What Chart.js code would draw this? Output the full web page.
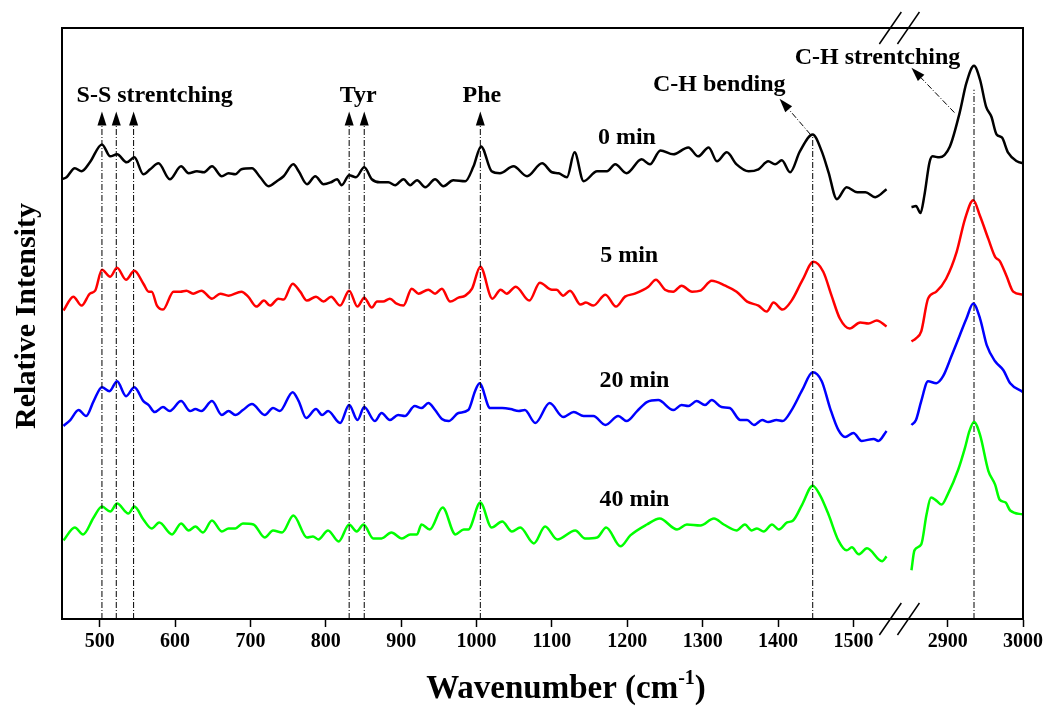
<!DOCTYPE html>
<html>
<head>
<meta charset="utf-8">
<script src="https://cdn.jsdelivr.net/npm/chart.js@4.4.0/dist/chart.umd.min.js"></script>
<style>
  html, body { margin: 0; padding: 0; background: #fff; }
  #wrap { width: 1056px; height: 709px; }
</style>
</head>
<body>
<div id="wrap"><canvas id="raman" width="1056" height="709"></canvas></div>
<script>
// Raman spectra after 0, 5, 20 and 40 min, offset vertically (relative intensity, a.u.)
// left part = fingerprint region, right part = C-H stretching region

// 0 min
const wn0L = [450,456,467,476,487,503,514,523,536,546,558,567,578,593,608,618,629,638,649,662,671,680,688,702,713,724,735,744,757,764,775,786,797,807,815,821,831,840,851,861,872,883,892,903,912,921,932,945,956,969,985,996,1006,1020,1031,1049,1067,1087,1100,1109,1120,1130,1142,1160,1173,1184,1199,1219,1230,1244,1261,1281,1294,1308,1319,1332,1345,1361,1374,1387,1396,1405,1416,1429,1446,1458,1467,1478,1491,1505,1516,1529,1544];
const int0L = [442,444,453,450,459,477,465,467,459,464,447,452,458,442,455,448,450,449,455,445,448,447,452,453,444,435,440,445,457,450,437,445,437,439,442,436,446,444,454,442,439,439,436,442,436,441,434,442,435,441,440,455,475,450,448,455,445,458,449,448,444,469,440,450,450,457,448,462,457,471,467,474,465,474,460,469,457,450,452,460,457,461,449,470,487,470,449,422,434,429,429,424,432];
const wn0R = [2852,2858,2864,2869,2876,2880,2889,2903,2916,2925,2935,2943,2951,2958,2965,2972,2980,2992,3000];
const int0R = [414,415,408,425,459,465,464,475,509,539,556,542,515,505,487,484,469,460,458];

// 5 min
const wn1L = [452,465,476,487,494,503,514,523,535,546,558,565,569,576,584,598,607,615,624,635,649,660,671,688,697,708,718,726,737,744,756,766,775,787,797,807,819,831,842,851,861,868,876,885,894,903,914,923,936,945,954,965,976,985,994,1005,1021,1032,1040,1052,1070,1084,1100,1106,1115,1124,1138,1145,1155,1171,1185,1197,1210,1228,1238,1250,1261,1272,1286,1297,1312,1330,1345,1359,1374,1385,1394,1406,1418,1432,1447,1460,1471,1482,1495,1509,1520,1531,1544];
const int1L = [310,324,315,327,330,351,344,353,341,350,337,329,329,315,311,329,329,330,327,330,322,327,325,329,324,314,320,315,322,321,337,329,320,324,319,324,315,330,314,323,313,319,319,322,317,315,332,327,331,327,332,319,323,325,332,354,322,331,327,334,320,338,331,331,325,330,316,318,315,326,314,324,327,334,341,331,329,335,329,330,340,335,329,319,315,309,318,311,320,340,359,349,325,302,292,298,297,300,294];
const wn1R = [2852,2858,2865,2874,2885,2898,2912,2923,2934,2943,2954,2963,2969,2978,2987,3000];
const int1R = [279,282,289,322,329,342,369,402,421,405,382,364,360,345,329,326];

// 20 min
const wn2L = [452,461,472,482,492,503,513,523,535,546,558,565,573,584,593,608,620,627,635,649,662,671,680,690,702,719,730,739,756,764,774,787,795,803,819,831,842,851,865,874,885,896,905,918,927,936,945,954,963,976,989,998,1004,1018,1034,1045,1056,1064,1078,1097,1115,1129,1142,1155,1171,1188,1199,1213,1226,1241,1261,1272,1281,1292,1303,1312,1325,1336,1350,1359,1368,1379,1387,1398,1406,1418,1432,1446,1458,1469,1480,1489,1500,1511,1527,1533,1544];
const int2L = [194,200,210,204,219,233,229,239,224,233,219,215,208,213,209,219,209,211,209,219,205,209,205,210,216,205,212,209,228,219,202,211,205,209,197,215,200,213,199,207,200,205,204,214,212,217,210,201,199,207,210,229,237,212,212,211,209,210,197,217,203,208,204,204,195,204,199,209,218,220,210,215,214,219,215,220,213,212,200,200,195,200,198,200,199,210,230,248,239,212,190,183,187,179,181,179,189];
const wn2R = [2852,2858,2865,2874,2885,2894,2905,2916,2925,2934,2943,2952,2963,2974,2983,3000];
const int2R = [195,200,219,239,237,244,264,285,302,317,302,275,259,250,237,228];

// 40 min
const wn3L = [452,467,478,492,503,514,523,538,546,558,569,579,596,608,618,627,637,649,662,671,680,690,704,719,730,742,757,775,783,790,803,817,831,841,850,863,874,887,901,912,921,927,938,955,972,983,989,1005,1020,1034,1047,1058,1076,1091,1107,1131,1144,1160,1172,1191,1204,1226,1243,1266,1279,1297,1315,1328,1345,1356,1365,1372,1381,1392,1401,1412,1420,1432,1446,1456,1467,1480,1491,1498,1507,1518,1538,1544];
const int3L = [79,92,85,102,113,108,116,106,113,100,91,97,85,96,89,93,87,99,88,91,91,96,95,82,89,87,104,82,83,80,89,78,95,88,95,81,81,87,81,85,85,95,90,112,85,90,90,117,92,98,88,92,76,93,80,89,81,82,92,73,84,95,101,90,95,94,101,95,89,95,89,91,88,95,90,97,99,115,134,124,105,79,69,72,65,71,58,63];
const wn3R = [2852,2856,2865,2872,2878,2885,2892,2900,2914,2923,2929,2935,2943,2954,2963,2969,2977,2983,3000];
const int3R = [49,69,75,105,122,119,115,125,150,172,189,198,185,149,135,120,117,109,105];

const seriesLabels = ['0 min', '5 min', '20 min', '40 min'];
const seriesColors = ['#000000', '#ff0000', '#0000ff', '#00ff00'];
const ticksLeft = [500, 600, 700, 800, 900, 1000, 1100, 1200, 1300, 1400, 1500];
const ticksRight = [2900, 3000];

// band assignments (cm-1)
const upArrowBands = [503, 522, 545, 831, 851, 1005];
const chBending = 1446;
const chStretching = 2935;

const FONT = '"Liberation Serif", "Times New Roman", serif';
Chart.defaults.font.family = FONT;
Chart.defaults.color = '#000';

const wnSets = [[wn0L, wn0R], [wn1L, wn1R], [wn2L, wn2R], [wn3L, wn3R]];
const intSets = [[int0L, int0R], [int1L, int1R], [int2L, int2R], [int3L, int3R]];

const datasets = [];
wnSets.forEach((parts, s) => {
  parts.forEach((wn, p) => {
    datasets.push({
      label: seriesLabels[s],
      data: wn.map((w, i) => ({ x: w, y: intSets[s][p][i] })),
      xAxisID: p === 0 ? 'x1' : 'x2',
      borderColor: seriesColors[s],
      borderWidth: 2.5,
      pointRadius: 0,
      fill: false,
      cubicInterpolationMode: 'monotone'
    });
  });
});

function arrow(ctx, x0, y0, x1, y1, head) {
  const ang = Math.atan2(y1 - y0, x1 - x0);
  const bx = x1 - head * Math.cos(ang), by = y1 - head * Math.sin(ang);
  ctx.beginPath();
  ctx.moveTo(x0, y0);
  ctx.lineTo(bx, by);
  ctx.stroke();
  ctx.save();
  ctx.setLineDash([]);
  ctx.beginPath();
  ctx.moveTo(x1, y1);
  ctx.lineTo(bx + 4.5 * Math.sin(ang), by - 4.5 * Math.cos(ang));
  ctx.lineTo(bx - 4.5 * Math.sin(ang), by + 4.5 * Math.cos(ang));
  ctx.closePath();
  ctx.fill();
  ctx.restore();
}

const annotate = {
  id: 'annotate',
  afterDatasetsDraw(chart) {
    const { ctx, chartArea: a, scales: { x1, x2, y } } = chart;
    const px = w => (w > 2000 ? x2 : x1).getPixelForValue(w);
    ctx.save();
    ctx.strokeStyle = '#000';
    ctx.fillStyle = '#000';
    ctx.lineWidth = 1;
    ctx.setLineDash([6, 2, 1, 2]);

    // arrows up to the band labels
    upArrowBands.forEach(w => {
      arrow(ctx, px(w), a.bottom, px(w), y.getPixelForValue(510), 14);
    });

    // C-H bending: line up to the 0 min peak, then slanted arrow
    ctx.beginPath();
    ctx.moveTo(px(chBending), a.bottom);
    ctx.lineTo(px(chBending), y.getPixelForValue(487));
    ctx.stroke();
    arrow(ctx, px(1443), y.getPixelForValue(487), px(1402), y.getPixelForValue(523), 14);

    // C-H stretching
    ctx.beginPath();
    ctx.moveTo(px(chStretching), a.bottom);
    ctx.lineTo(px(chStretching), y.getPixelForValue(532));
    ctx.stroke();
    arrow(ctx, px(2909), y.getPixelForValue(509), px(2852), y.getPixelForValue(554), 14);
    ctx.restore();

    // texts
    ctx.save();
    ctx.fillStyle = '#000';
    ctx.font = 'bold 24px ' + FONT;
    ctx.textBaseline = 'middle';
    ctx.textAlign = 'center';
    [['S-S strentching', 573, 526], ['Tyr', 843, 526], ['Phe', 1007, 526],
     ['C-H bending', 1322, 537], ['C-H strentching', 1532, 564]].forEach(([t, w, v]) => {
      ctx.fillText(t, x1.getPixelForValue(w), y.getPixelForValue(v));
    });
    ctx.textAlign = 'left';
    [[1161, 484], [1164, 365], [1163, 239], [1163, 120]].forEach(([w, v], i) => {
      ctx.fillText(seriesLabels[i], x1.getPixelForValue(w), y.getPixelForValue(v));
    });
    ctx.restore();
  },
  afterDraw(chart) {
    const { ctx, chartArea: a, scales: { x1 } } = chart;
    ctx.save();
    ctx.strokeStyle = '#000';
    ctx.lineWidth = 2;
    ctx.strokeRect(a.left, a.top, a.right - a.left, a.bottom - a.top);

    // axis break marks
    ctx.lineWidth = 1.5;
    [1549, 1573].forEach(w => {
      const x = x1.getPixelForValue(w);
      [a.top, a.bottom].forEach(yy => {
        ctx.beginPath();
        ctx.moveTo(x - 11, yy + 16);
        ctx.lineTo(x + 11, yy - 16);
        ctx.stroke();
      });
    });

    // axis titles
    ctx.fillStyle = '#000';
    ctx.textBaseline = 'alphabetic';
    ctx.font = 'bold 30px ' + FONT;
    ctx.save();
    ctx.translate(35, 316);
    ctx.rotate(-Math.PI / 2);
    ctx.textAlign = 'center';
    ctx.fillText('Relative Intensity', 0, 0);
    ctx.restore();

    const big = 'bold 33px ' + FONT, small = 'bold 20px ' + FONT;
    ctx.font = big;
    const w1 = ctx.measureText('Wavenumber (cm').width;
    const w3 = ctx.measureText(')').width;
    ctx.font = small;
    const w2 = ctx.measureText('-1').width;
    let x = 566 - (w1 + w2 + w3) / 2;
    ctx.textAlign = 'left';
    ctx.font = big;
    ctx.fillText('Wavenumber (cm', x, 698);
    ctx.font = small;
    ctx.fillText('-1', x + w1, 684);
    ctx.font = big;
    ctx.fillText(')', x + w1 + w2, 698);
    ctx.restore();
  }
};

const axisCommon = {
  type: 'linear',
  position: 'bottom',
  stack: 'wn',
  grid: { display: true, drawOnChartArea: false, drawTicks: true, tickLength: 8, tickWidth: 1.5, tickColor: '#000' },
  border: { display: true, color: '#000', width: 2 },
  ticks: {
    autoSkip: false, maxRotation: 0, includeBounds: false, padding: 3, color: '#000',
    font: { size: 20, weight: 'bold' },
    callback: v => String(v)
  }
};

new Chart(document.getElementById('raman'), {
  type: 'line',
  data: { datasets },
  options: {
    responsive: false,
    animation: false,
    layout: { padding: { left: 62, top: 28, right: 33, bottom: 52 } },
    plugins: { legend: { display: false }, tooltip: { enabled: false } },
    scales: {
      x1: Object.assign({}, axisCommon, {
        min: 450, max: 1575, stackWeight: 1125, weight: 1,
        afterBuildTicks: s => { s.ticks = ticksLeft.map(v => ({ value: v })); }
      }),
      x2: Object.assign({}, axisCommon, {
        min: 2850, max: 3000, stackWeight: 150, weight: 2,
        afterBuildTicks: s => { s.ticks = ticksRight.map(v => ({ value: v })); }
      }),
      y: { display: false, min: 0, max: 594 }
    }
  },
  plugins: [annotate]
});
</script>
</body>
</html>
